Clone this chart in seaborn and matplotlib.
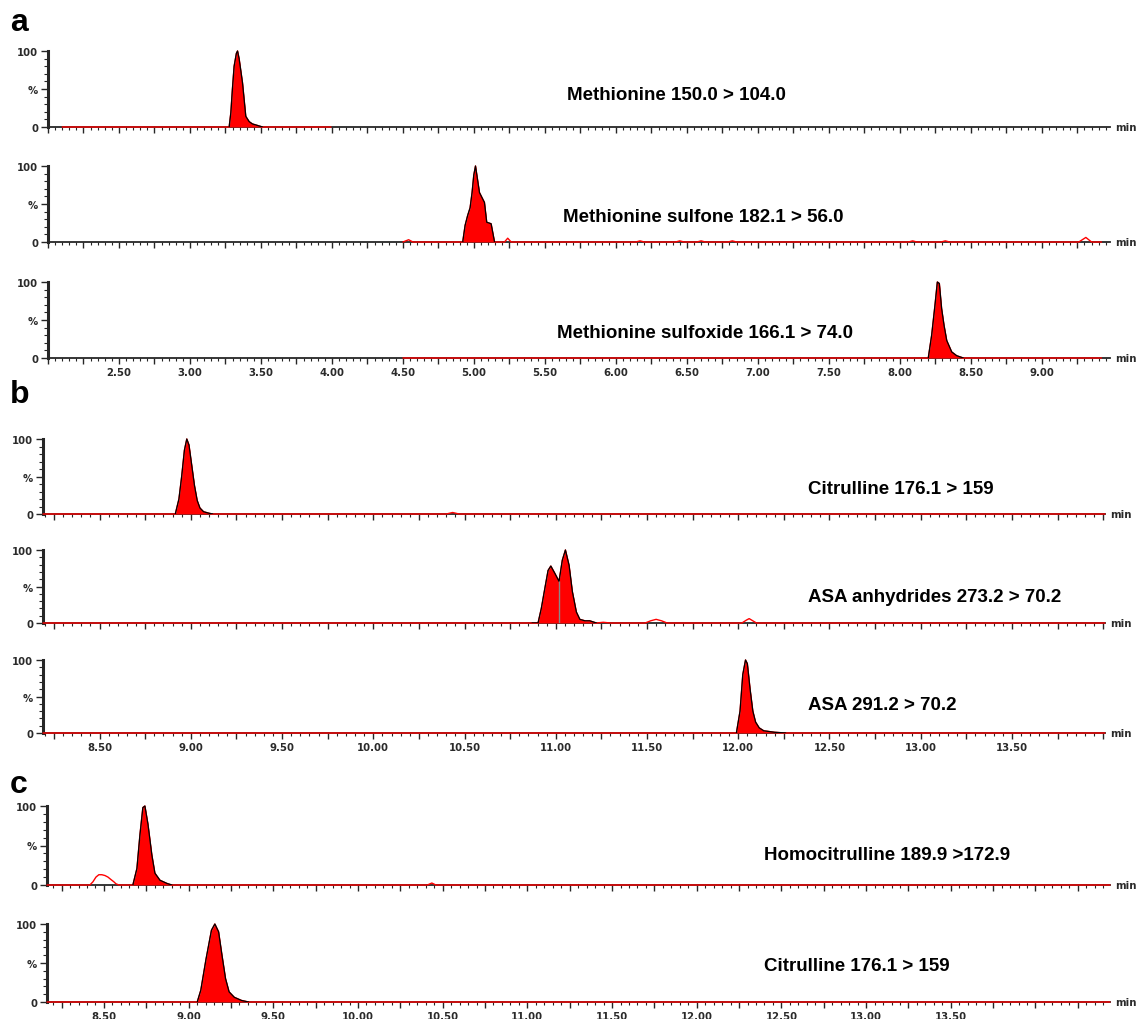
import numpy as np
import pandas as pd
import matplotlib
matplotlib.use("Agg")
import matplotlib.pyplot as plt
import seaborn as sns
from matplotlib.ticker import MultipleLocator, FixedLocator

sns.set_style("ticks")
plt.rcParams["font.family"] = ["Liberation Sans", "DejaVu Sans"]

# ---------------- data (retention time in min, relative intensity in %) -------------
a1_time = [2.10, 3.26, 3.276, 3.288, 3.299, 3.311, 3.327, 3.335, 3.346, 3.370, 3.382, 3.393,
           3.417, 3.440, 3.476, 3.511, 3.55, 3.993]
a1_int = [0, 0, 0, 19, 50, 80, 97, 100, 90, 58, 35, 14, 7, 4, 2, 0, 0, 0]
a1_peak = (3.276, 3.511)

a2_time = [4.50, 4.54, 4.57, 4.90, 4.921, 4.938, 4.956, 4.973, 4.987, 4.999, 5.011, 5.039,
           5.074, 5.090, 5.121, 5.145, 5.215, 5.238, 5.262, 6.14, 6.17, 6.20, 6.42, 6.45,
           6.48, 6.57, 6.60, 6.63, 6.79, 6.82, 6.85, 8.06, 8.09, 8.12, 8.29, 8.32, 8.35,
           9.26, 9.31, 9.35, 9.42]
a2_int = [0, 3, 0, 0, 0, 22, 35, 45, 65, 88, 100, 65, 52, 26, 24, 0, 0, 5, 0, 0, 1.5, 0, 0,
          1.5, 0, 0, 1.5, 0, 0, 1.5, 0, 0, 1.5, 0, 0, 1.5, 0, 0, 6, 0, 0]
a2_peak = (4.921, 5.145)

a3_time = [4.50, 8.18, 8.200, 8.224, 8.247, 8.264, 8.278, 8.294, 8.311, 8.330, 8.365, 8.400,
           8.447, 9.42]
a3_int = [0, 0, 0, 30, 69, 100, 98, 65, 43, 23, 8, 3, 0, 0]
a3_peak = (8.200, 8.447)

b1_time = [8.19, 8.915, 8.935, 8.950, 8.965, 8.978, 8.990, 9.005, 9.020, 9.035, 9.050,
           9.070, 9.100, 9.120, 10.40, 10.435, 10.47, 14.01]
b1_int = [0, 0, 20, 50, 85, 100, 92, 65, 38, 18, 8, 3, 1, 0, 0, 2, 0, 0]
b1_peak = (8.915, 9.120)

b2_time = [8.19, 10.870, 10.903, 10.921, 10.940, 10.958, 10.973, 10.995, 11.018, 11.036,
           11.053, 11.073, 11.091, 11.113, 11.132, 11.160, 11.186, 11.223, 11.26, 11.30,
           11.49, 11.52, 11.55, 11.58, 11.61, 12.02, 12.045, 12.06, 12.08, 12.10, 14.01]
b2_int = [0, 0, 0, 20, 47, 72, 78, 68, 57, 86, 100, 79, 43, 15, 5, 3, 3, 0, 1, 0,
          0, 3, 5, 3, 0, 0, 4, 6, 3, 0, 0]
b2_peak = (10.870, 11.223)
b2_split = 11.018

b3_time = [8.19, 11.990, 12.010, 12.025, 12.040, 12.050, 12.065, 12.080, 12.095, 12.115,
           12.140, 12.200, 12.260, 14.01]
b3_int = [0, 0, 30, 80, 100, 95, 60, 30, 15, 7, 3, 1, 0, 0]
b3_peak = (11.990, 12.260)

c1_time = [8.164, 8.417, 8.435, 8.453, 8.470, 8.488, 8.506, 8.524, 8.541, 8.559, 8.571,
           8.589, 8.671, 8.695, 8.713, 8.730, 8.742, 8.760, 8.783, 8.801, 8.831, 8.872,
           8.901, 10.41, 10.436, 10.46, 14.44]
c1_int = [0, 0, 4, 10, 13, 13, 12, 10, 7, 4, 1.5, 0, 0, 21, 64, 98, 100, 77, 38, 15, 6, 2,
          0, 0, 2.5, 0, 0]
c1_peak = (8.671, 8.901)

c2_time = [8.164, 9.051, 9.072, 9.103, 9.135, 9.155, 9.177, 9.197, 9.218, 9.239, 9.270,
           9.312, 9.354, 14.44]
c2_int = [0, 0, 15, 55, 92, 100, 90, 60, 30, 13, 6, 2, 0, 0]
c2_peak = (9.051, 9.354)

titles = ["Methionine 150.0 > 104.0", "Methionine sulfone 182.1 > 56.0",
          "Methionine sulfoxide 166.1 > 74.0", "Citrulline 176.1 > 159",
          "ASA anhydrides 273.2 > 70.2", "ASA 291.2 > 70.2",
          "Homocitrulline 189.9 >172.9", "Citrulline 176.1 > 159"]
a_xtick_labels = ["2.50", "3.00", "3.50", "4.00", "4.50", "5.00", "5.50", "6.00", "6.50",
                  "7.00", "7.50", "8.00", "8.50", "9.00"]
bc_xtick_labels = ["8.50", "9.00", "9.50", "10.00", "10.50", "11.00", "11.50", "12.00",
                   "12.50", "13.00", "13.50"]
y_tick_values = [0, 50, 100]
y_tick_labels = ["0", "%", "100"]

# ---------------- layout (pixels) ----------------------------------------------------
W, H = 1140, 1020
fig = plt.figure(figsize=(W / 100, H / 100), dpi=100)
fig.patch.set_facecolor("white")

groups = {
    "a": dict(left=48, right=1110, xlim=(2.0, 9.48), rows=[(52, 128), (167, 243), (283, 359)],
              labels=a_xtick_labels),
    "b": dict(left=43, right=1105, xlim=(8.19, 14.01), rows=[(440, 515), (551, 624), (661, 734)],
              labels=bc_xtick_labels),
    "c": dict(left=47, right=1110, xlim=(8.164, 14.44), rows=[(807, 886), (925, 1003)],
              labels=bc_xtick_labels),
}
traces = {
    "a": [(a1_time, a1_int, a1_peak), (a2_time, a2_int, a2_peak), (a3_time, a3_int, a3_peak)],
    "b": [(b1_time, b1_int, b1_peak), (b2_time, b2_int, b2_peak), (b3_time, b3_int, b3_peak)],
    "c": [(c1_time, c1_int, c1_peak), (c2_time, c2_int, c2_peak)],
}
title_pos = {"a": [(567, 95), (563, 217), (557, 334)],
             "b": [(808, 489), (808, 597), (808, 706)],
             "c": [(764, 856), (764, 967)]}
letter_pos = {"a": (10, 31), "b": (10, 403), "c": (10, 793)}

TICK_FAM = ["DejaVu Sans"]
TICK_SIZE = 7.3
TICK_COL = "#2a2a2a"

ti = 0
for g in ["a", "b", "c"]:
    spec = groups[g]
    nrows = len(spec["rows"])
    lab_vals = [float(s) for s in spec["labels"]]
    for r, (top, base) in enumerate(spec["rows"]):
        h = (base - top) * 1.02
        ax = fig.add_axes([spec["left"] / W, 1 - base / H,
                           (spec["right"] - spec["left"]) / W, h / H])
        t, y, pk = traces[g][r]
        df = pd.DataFrame({"t": t, "y": y})
        sns.lineplot(data=df, x="t", y="y", ax=ax, color="red", linewidth=1.0,
                     estimator=None, sort=False, zorder=3, clip_on=False)
        seg = df[(df.t >= pk[0]) & (df.t <= pk[1])]
        ax.fill_between(seg.t, 0, seg.y, color="red", linewidth=0, zorder=4)
        ax.plot(seg.t, seg.y, color="black", linewidth=0.9, zorder=5)
        if g == "b" and r == 1:
            sp = df[np.isclose(df.t, b2_split)]
            ax.vlines(sp.t, 0, sp.y, color="#888888", linewidth=1.0, zorder=6)

        ax.set_xlim(*spec["xlim"])
        ax.set_ylim(0, 102)
        ax.set_xlabel("")
        ax.set_ylabel("")
        for s in ["top", "right"]:
            ax.spines[s].set_visible(False)
        ax.spines["left"].set_bounds(0, 100)
        ax.spines["left"].set_linewidth(2.2)
        ax.spines["bottom"].set_linewidth(1.3)
        ax.set_facecolor("none")

        # major ticks every 0.25 min (labels only at listed values), minor every 0.05
        x0, x1 = spec["xlim"]
        majors = [k * 0.25 for k in range(int(np.ceil(x0 / 0.25)), int(np.floor(x1 / 0.25)) + 1)]
        ax.xaxis.set_major_locator(FixedLocator(majors))
        ax.xaxis.set_minor_locator(MultipleLocator(0.05))
        labs = []
        for m in majors:
            hit = [s for s, v in zip(spec["labels"], lab_vals) if abs(v - m) < 1e-6]
            labs.append(hit[0] if (hit and r == nrows - 1) else "")
        ax.set_xticklabels(labs)
        ax.tick_params(axis="x", which="major", direction="out", length=4.5, width=1.0, pad=2)
        ax.tick_params(axis="x", which="minor", direction="out", length=2.5, width=0.8)
        for lab in ax.get_xticklabels():
            lab.set_family(TICK_FAM)
            lab.set_weight("bold")
            lab.set_size(TICK_SIZE)
            lab.set_color(TICK_COL)

        ax.yaxis.set_major_locator(FixedLocator(y_tick_values))
        ax.set_yticklabels(y_tick_labels)
        ax.yaxis.set_minor_locator(MultipleLocator(10))
        ax.tick_params(axis="y", which="major", direction="out", length=5, width=1.0, pad=2)
        ax.tick_params(axis="y", which="minor", direction="out", length=3, width=0.8)
        for lab in ax.get_yticklabels():
            lab.set_family(TICK_FAM)
            lab.set_weight("bold")
            lab.set_size(TICK_SIZE)
            lab.set_color(TICK_COL)

        ax.annotate("min", xy=(1.0, 0), xycoords="axes fraction", xytext=(4, 0),
                    textcoords="offset points", ha="left", va="center",
                    fontfamily="DejaVu Sans", fontweight="bold", fontsize=TICK_SIZE,
                    color=TICK_COL, annotation_clip=False)

        tx, ty = title_pos[g][r]
        fig.text(tx / W, 1 - ty / H, titles[ti], ha="left", va="center",
                 fontsize=13.5, fontweight="bold", color="black")
        ti += 1

    lx, ly = letter_pos[g]
    fig.text(lx / W, 1 - ly / H, g, ha="left", va="baseline", fontsize=23,
             fontweight="bold", color="black")

fig.savefig("out.png", dpi=100, facecolor="white")
